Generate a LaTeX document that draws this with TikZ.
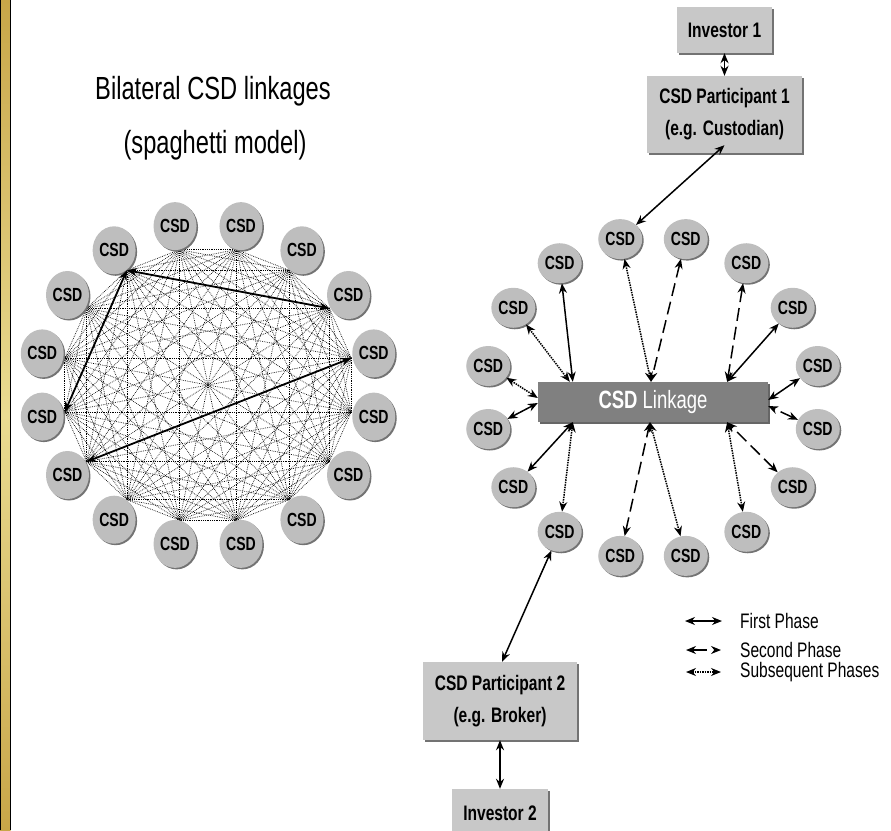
\documentclass[tikz,border=0pt]{standalone}
\usepackage{fontspec}
\setmainfont{Liberation Sans}[FakeStretch=0.74]
\usetikzlibrary{shapes.geometric,shadows,arrows.meta}

\definecolor{ringgray}{RGB}{190,190,190}
\definecolor{boxgray}{RGB}{200,200,200}
\definecolor{bargray}{RGB}{128,128,128}
\definecolor{goldlight}{RGB}{234,220,146}
\definecolor{golddark}{RGB}{200,166,72}

\begin{document}
\begin{tikzpicture}[x=1pt,y=-1pt,>={Stealth[length=10pt,width=8pt]},
    csd/.style={ellipse,fill=ringgray,inner sep=0pt,
        font=\fontsize{19}{19}\selectfont\bfseries,
        drop shadow={shadow xshift=1.5pt,shadow yshift=-1.5pt,fill=black!55,opacity=1}},
    infobox/.style={rectangle,fill=boxgray,inner sep=0pt,align=center,
        font=\fontsize{21}{32}\selectfont\bfseries,
        drop shadow={shadow xshift=2pt,shadow yshift=-2pt,fill=black!55,opacity=1}},
    mesh/.style={dash pattern=on 0.7pt off 1.1pt,line width=0.7pt,black},
    phaseone/.style={<->,line width=1.5pt},
    phasetwo/.style={<->,line width=1.5pt,dash pattern=on 13pt off 6pt},
    phasethree/.style={<->,line width=1.5pt,densely dotted},
    legendtext/.style={anchor=west,inner sep=0pt,font=\fontsize{21}{21}\selectfont}]
\useasboundingbox (0,0) rectangle (891,830);

% gold frame on the left
\shade[top color=golddark,bottom color=golddark,middle color=goldlight] (0,0) rectangle (10.5,830);
\draw[line width=1.2pt] (0.6,0) -- (0.6,830);
\draw[line width=1pt] (10.5,0) -- (10.5,830);

% spaghetti model
\node[anchor=base,font=\fontsize{32}{32}\selectfont] (title) at (213,99) {Bilateral CSD linkages};
\node[anchor=base,font=\fontsize{32}{32}\selectfont] (subtitle) at (215,153) {(spaghetti model)};

\foreach \k in {1,...,16}{
    \pgfmathsetmacro\ang{11.25+22.5*(\k-1)}
    \coordinate (p\k) at ({208+146*cos(\ang)},{385-138*sin(\ang)});
}
\foreach \i in {1,...,15}{
    \pgfmathtruncatemacro\nxt{\i+1}
    \foreach \j in {\nxt,...,16}
        \draw[mesh] (p\i) -- (p\j);
}
\foreach \k in {1,...,16}{
    \pgfmathsetmacro\ang{11.25+22.5*(\k-1)}
    \node[csd,minimum width=43pt,minimum height=48pt] (l\k) at ({208+169*cos(\ang)},{385-162*sin(\ang)}) {CSD};
}
\draw[phaseone,line width=1.8pt] (p6) -- (p2);
\draw[phaseone,line width=1.8pt] (p6) -- (p9);
\draw[phaseone,line width=1.8pt] (p10) -- (p1);

% CSD linkage
\node[rectangle,fill=bargray,text=white,minimum width=230pt,minimum height=40pt,
    font=\fontsize{25}{25}\selectfont,
    drop shadow={shadow xshift=2pt,shadow yshift=-2pt,fill=black!60,opacity=1}]
    (linkage) at (653,402) {\textbf{CSD} Linkage};

\foreach \k in {1,...,16}{
    \pgfmathsetmacro\ang{11.25+22.5*(\k-1)}
    \node[csd,minimum width=44pt,minimum height=40pt] (r\k) at ({653+168*cos(\ang)},{397.5-161.5*sin(\ang)}) {CSD};
}

\draw[phaseone] (r1) -- ([yshift=2pt]linkage.east);
\draw[phaseone] (r2) -- ([xshift=-41pt]linkage.north east);
\draw[phasetwo] (r3) -- ([xshift=-41pt]linkage.north east);
\draw[phasetwo] (r4) -- ([xshift=-2pt]linkage.north);
\draw[phasethree] (r5) -- ([xshift=-2pt]linkage.north);
\draw[phaseone] (r6) -- ([xshift=35pt]linkage.north west);
\draw[phasethree] (r7) -- ([xshift=32pt]linkage.north west);
\draw[phasethree] (r8) -- ([yshift=4pt]linkage.west);
\draw[phaseone] (r9) -- ([yshift=-1pt]linkage.west);
\draw[phaseone] (r10) -- ([xshift=35pt]linkage.south west);
\draw[phasethree] (r11) -- ([xshift=35pt]linkage.south west);
\draw[phasetwo] (r12) -- ([xshift=-3pt]linkage.south);
\draw[phasethree] (r13) -- ([xshift=-3pt]linkage.south);
\draw[phasethree] (r14) -- ([xshift=-41pt]linkage.south east);
\draw[phasetwo] (r15) -- ([xshift=-41pt]linkage.south east);
\draw[phasetwo] (r16) -- ([yshift=-4pt]linkage.east);

% participants and investors
\node[infobox,minimum width=95pt,minimum height=46pt] (inv1) at (724.5,30) {Investor 1};
\node[infobox,minimum width=155pt,minimum height=77pt] (part1) at (724.5,114.5) {CSD Participant 1\\(e.g. Custodian)};
\node[infobox,minimum width=154pt,minimum height=78pt] (part2) at (500,701) {CSD Participant 2\\(e.g. Broker)};
\node[infobox,minimum width=96pt,minimum height=48pt] (inv2) at (500,813) {Investor 2};

\draw[phaseone] (inv1.south) -- (inv1.south |- part1.north);
\draw[phaseone] ([yshift=8pt]part1.south) -- (r5);
\draw[phaseone] (r11) -- ([xshift=2pt]part2.north);
\draw[phaseone] (inv2.north) -- (inv2.north |- part2.south);

% legend
\node[legendtext] (lg1) at (740,621) {First Phase};
\node[legendtext] (lg2) at (740,650) {Second Phase};
\node[legendtext] (lg3) at (740,672) {Subsequent Phases};
\draw[phaseone,line width=1.3pt] ([xshift=-55pt]lg1.west) -- ([xshift=-18pt]lg1.west);
\draw[<->,line width=1.3pt,dash pattern=on 15pt off 7pt] ([xshift=-54pt]lg2.west) -- ([xshift=-19pt]lg2.west);
\draw[phasethree,line width=1.3pt] ([xshift=-54pt]lg3.west) -- ([xshift=-19pt]lg3.west);
\end{tikzpicture}
\end{document}
